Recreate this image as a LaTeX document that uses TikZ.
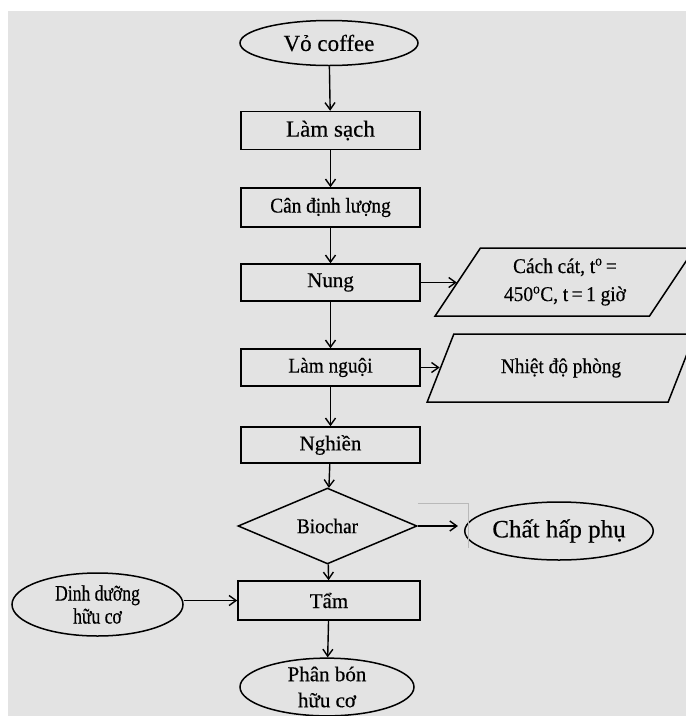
\documentclass[tikz,border=0pt]{standalone}
\usepackage{fontspec}
\setmainfont{Liberation Serif}[FakeBold=0.4]
\newfontfamily\condA{Liberation Serif}[FakeBold=0.4,FakeStretch=0.92]
\newfontfamily\condB{Liberation Serif}[FakeBold=0.4,FakeStretch=0.8]
\usetikzlibrary{shapes.geometric,arrows.meta}
\begin{document}
\begin{tikzpicture}[x=1pt,y=-1pt,
  base/.style={draw=black,line width=1.5pt,font=\fontsize{21}{25}\selectfont,inner sep=0pt,align=center},
  procbox/.style={base,rectangle,minimum width=179pt,minimum height=38pt},
  term/.style={base,ellipse},
  para/.style={base,trapezium,trapezium stretches=true,minimum height=68pt},
  flow/.style={line width=1.4pt,-{Straight Barb[length=7pt,width=10pt]}}]
\useasboundingbox (0,0) rectangle (686,716);
\fill[white] (0,0) rectangle (686,716);
\fill[gray!22] (8,11) rectangle (686,716);

\node[term,minimum width=178pt,minimum height=45pt,font=\fontsize{23}{25}\selectfont] (vo) at (329,43) {Vỏ coffee};
\node[procbox,font=\fontsize{23}{25}\selectfont] (lamsach) at (330.5,130.5) {Làm sạch};
\node[procbox,minimum height=39pt,font=\condA\fontsize{21}{25}\selectfont] (can) at (330.5,207.5) {Cân định lượng};
\node[procbox,minimum height=37pt] (nung) at (330.5,282.5) {Nung};
\node[procbox,minimum height=37pt,font=\condA\fontsize{21}{25}\selectfont] (nguoi) at (330.5,367.5) {Làm nguội};
\node[procbox,minimum height=36pt] (nghien) at (330.5,445) {Nghiền};
\node[base,diamond,minimum width=179pt,minimum height=52pt,font=\condA\fontsize{21}{25}\selectfont] (bio) at (327.5,526) {Biochar};
\node[term,minimum width=172pt,minimum height=58pt,font=\fontsize{25}{27}\selectfont] (chat) at (559,531) {Chất hấp phụ};
\node[procbox,minimum width=182pt,minimum height=39pt] (tam) at (329,600.5) {Tẩm};
\node[term,minimum width=171pt,minimum height=63pt,font=\condB\fontsize{22}{23}\selectfont] (dinh) at (97.5,604.5) {Dinh dưỡng\\hữu cơ};
\node[term,minimum width=174pt,minimum height=57pt,font=\fontsize{21}{26}\selectfont] (phan) at (327,687) {Phân bón\\hữu cơ};

\node[para,trapezium left angle=55.3,trapezium right angle=124.7,minimum width=260pt,font=\condA\fontsize{21}{28}\selectfont] (cach) at (565,282) {Cách cát, t\textsuperscript{o}\,=\\450\textsuperscript{o}C, t\,=\,1 giờ};
\node[para,trapezium left angle=52,trapezium right angle=128,minimum width=268pt,font=\condA\fontsize{21}{25}\selectfont] (phong) at (561,368) {Nhiệt độ phòng};

\draw[flow] (vo) -- (lamsach);
\draw[flow] (lamsach) -- (can);
\draw[flow] (can) -- (nung);
\draw[flow] (nung) -- (nguoi);
\draw[flow] (nguoi) -- (nghien);
\draw[flow] (nghien) -- (bio);
\draw[flow] (bio) -- (tam);
\draw[flow] (tam) -- (phan);
\draw[flow] (nung.east) -- (nung.east -| cach.west);
\draw[flow] (nguoi.east) -- (nguoi.east -| phong.west);
\draw[flow,shorten >=6pt] (bio.east) -- (bio.east -| chat.west);
\draw[flow] (dinh.east |- tam.west) -- (tam.west);

\draw[gray!55,line width=0.7pt] (bio.east |- 0,503) -- (468,503) -- (468,548);
\end{tikzpicture}
\end{document}
